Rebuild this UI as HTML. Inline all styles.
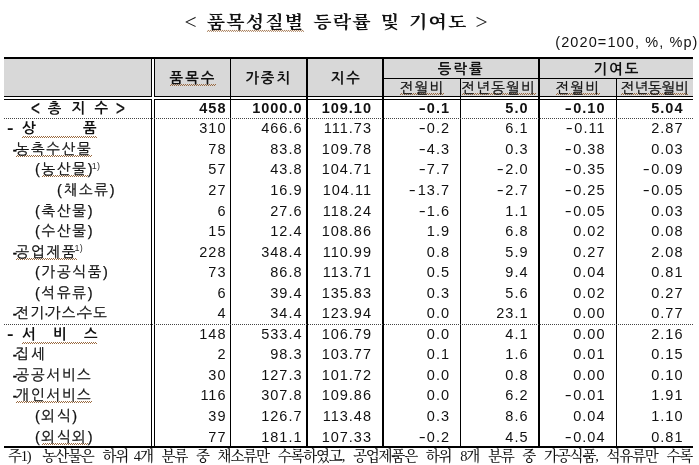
<!DOCTYPE html>
<html lang="ko"><head><meta charset="utf-8"><title>품목성질별 등락률 및 기여도</title>
<style>
html,body{margin:0;padding:0;background:#fff;}
body{width:699px;height:465px;position:relative;overflow:hidden;font-family:"Liberation Sans","NanumGothic","Noto Sans CJK KR",sans-serif;color:#111;font-size:14.5px;}
.abs{position:absolute;}
.title{left:186px;top:10.2px;height:26px;line-height:26px;transform:scaleY(0.87);transform-origin:50% 50%;font-family:"Liberation Serif","Noto Serif CJK KR","Noto Serif CJK SC",serif;font-weight:bold;font-size:19px;letter-spacing:1.15px;word-spacing:3px;white-space:pre;}
.unit{right:0.5px;top:33px;height:18px;line-height:18px;letter-spacing:1.1px;white-space:nowrap;}
.br{display:inline-block;width:10.8px;margin-right:1.15px;text-align:center;font-weight:normal;font-size:25px;line-height:0;transform:scaleX(.86);letter-spacing:0;text-indent:-2.6px;position:relative;top:1px;}
.tb{font-weight:normal;font-size:20px;transform:scaleX(.76);-webkit-text-stroke:0.3px #111;transform-origin:0 50%;}
.hbg{background:#d8d8d8;}
.ln{background:#000;}
.hd{text-align:center;font-weight:bold;letter-spacing:2px;text-indent:2px;white-space:nowrap;}
.sh{-webkit-text-stroke:0.25px #111;text-align:center;letter-spacing:1px;text-indent:1px;white-space:nowrap;}
.row{left:0;width:699px;height:20px;line-height:20px;white-space:nowrap;}
.row span.c{position:absolute;top:0;height:20px;}
.lab{letter-spacing:1.75px;-webkit-text-stroke:0.25px #111;}
.lab.t{letter-spacing:1.2px;}
.m{display:inline-block;width:8.3px;transform:scaleX(1.45);text-align:center;letter-spacing:0;margin-right:1px;}
.num{text-align:right;letter-spacing:1px;left:0;}
.b{font-weight:bold;}
sup{font-size:9px;vertical-align:baseline;position:relative;top:-5.5px;letter-spacing:0.3px;margin-left:-2.6px;line-height:0;-webkit-text-stroke:0;color:#333;}
i{font-style:normal;letter-spacing:0;display:inline-block;width:3px;text-align:center;margin-left:-1.2px;}
.dash{position:absolute;top:0;font-size:11px;font-weight:bold;letter-spacing:0;-webkit-text-stroke:0.5px #000;margin-left:-0.5px;}
.dot{height:0;border-top:1px dotted #444;}
.foot{left:8px;top:446px;height:20px;line-height:20px;font-size:14.5px;white-space:nowrap;font-family:"Liberation Serif","Noto Serif CJK KR","Noto Serif CJK SC",serif;letter-spacing:-1.2px;word-spacing:6.4px;font-weight:500;}
.sq{background-image:repeating-linear-gradient(90deg,#9a6a40 0 1px,transparent 1px 2px),repeating-linear-gradient(90deg,transparent 0 1px,#9a6a40 1px 2px);background-size:100% 1px,100% 1px;background-position:0 calc(100% - var(--o,0px)),0 calc(100% - 1px - var(--o,0px));background-repeat:no-repeat;}
.sh .sq{--o:1.5px;}
</style></head><body>
<div class="abs title"><span class="br">&lt;</span> <span class="sq">품목성질별</span> 등락률 및 기여도 <span class="br">&gt;</span></div>
<div class="abs unit">(2020=100, %, %p)</div>
<div class="abs hbg" style="left:4px;top:59px;width:689px;height:37px;"></div>

<div class="abs ln" style="left:4px;top:57px;width:689px;height:2px;"></div>
<div class="abs ln" style="left:4px;top:96px;width:689px;height:1px;"></div>
<div class="abs" style="left:4px;top:97px;width:689px;height:2px;background:#fff;"></div>
<div class="abs ln" style="left:4px;top:99px;width:689px;height:1px;"></div>
<div class="abs ln" style="left:384px;top:78px;width:309px;height:1px;"></div>
<div class="abs ln" style="left:4px;top:446px;width:689px;height:2px;"></div>
<div class="abs" style="left:152px;top:59px;width:2px;height:387px;background:#fff;"></div>
<div class="abs ln" style="left:151px;top:57px;width:1px;height:391px;"></div>
<div class="abs ln" style="left:154px;top:57px;width:1px;height:391px;"></div>
<div class="abs" style="left:151px;top:97px;width:4px;height:2px;background:#fff;"></div>
<div class="abs ln" style="left:230px;top:57px;width:1px;height:391px;"></div>
<div class="abs ln" style="left:306px;top:57px;width:1.5px;height:391px;"></div>
<div class="abs ln" style="left:382px;top:57px;width:2px;height:391px;"></div>
<div class="abs ln" style="left:460px;top:78px;width:1.3px;height:370px;"></div>
<div class="abs ln" style="left:538px;top:57px;width:2px;height:391px;"></div>
<div class="abs ln" style="left:616px;top:78px;width:1px;height:370px;"></div>
<div class="abs dot" style="left:4px;top:118px;width:689px;"></div>
<div class="abs dot" style="left:4px;top:323.5px;width:689px;"></div>
<div class="abs hd" style="left:132px;width:120px;top:67.5px;height:20px;line-height:20px;"><span class="sq">품목수</span></div>
<div class="abs hd" style="left:207.7px;width:120px;top:67.5px;height:20px;line-height:20px;">가중치</div>
<div class="abs hd" style="left:285.3px;width:120px;top:67.5px;height:20px;line-height:20px;">지수</div>
<div class="abs hd" style="left:400.1px;width:120px;top:58.5px;height:20px;line-height:20px;">등락률</div>
<div class="abs hd" style="left:555.9px;width:120px;top:58.5px;height:20px;line-height:20px;">기여도</div>
<div class="abs sh" style="left:361.4px;width:120px;top:78px;height:20px;line-height:20px;"><span class="sq">전월비</span></div>
<div class="abs sh" style="left:438.1px;width:120px;top:78px;height:20px;line-height:20px;letter-spacing:1.2px;"><span class="sq">전년동월비</span></div>
<div class="abs sh" style="left:517.1px;width:120px;top:78px;height:20px;line-height:20px;"><span class="sq">전월비</span></div>
<div class="abs sh" style="left:594.7px;width:120px;top:78px;height:20px;line-height:20px;letter-spacing:-0.2px;text-indent:0;"><span class="sq">전년동월비</span></div>
<div class="abs row b" style="top:97.50px;">
<span class="c tb" style="left:31px;">&lt;</span><span class="c b" style="left:47.8px;">총</span><span class="c b" style="left:71.4px;">지</span><span class="c b" style="left:94.5px;">수</span><span class="c tb" style="left:116.3px;">&gt;</span>
<span class="c num" style="width:226.5px;">458</span>
<span class="c num" style="width:302.5px;">1000.0</span>
<span class="c num" style="width:372px;">109.10</span>
<span class="c num" style="width:450px;"><span class="m">-</span>0.1</span>
<span class="c num" style="width:528.5px;">5.0</span>
<span class="c num" style="width:605.5px;"><span class="m">-</span>0.10</span>
<span class="c num" style="width:683.5px;">5.04</span>
</div>
<div class="abs row" style="top:118.30px;">
<span class="c b" style="left:7px;transform:scaleX(1.35);transform-origin:0 50%;">-</span><span class="c b sq" style="left:22px;width:75px;overflow:hidden;letter-spacing:0;">&nbsp;&nbsp;&nbsp;&nbsp;&nbsp;&nbsp;&nbsp;&nbsp;&nbsp;&nbsp;&nbsp;&nbsp;&nbsp;&nbsp;&nbsp;&nbsp;&nbsp;&nbsp;&nbsp;&nbsp;&nbsp;&nbsp;</span><span class="c b" style="left:22px;">상</span><span class="c b" style="left:83px;">품</span>
<span class="c num" style="width:226.5px;">310</span>
<span class="c num" style="width:302.5px;">466.6</span>
<span class="c num" style="width:372px;">111.73</span>
<span class="c num" style="width:450px;"><span class="m">-</span>0.2</span>
<span class="c num" style="width:528.5px;">6.1</span>
<span class="c num" style="width:605.5px;"><span class="m">-</span>0.11</span>
<span class="c num" style="width:683.5px;">2.87</span>
</div>
<div class="abs row" style="top:138.85px;">
<span class="c dash" style="left:13.5px;">-</span><span class="c lab" style="left:15.5px;"><span class="sq">농축수산물</span></span>
<span class="c num" style="width:226.5px;">78</span>
<span class="c num" style="width:302.5px;">83.8</span>
<span class="c num" style="width:372px;">109.78</span>
<span class="c num" style="width:450px;"><span class="m">-</span>4.3</span>
<span class="c num" style="width:528.5px;">0.3</span>
<span class="c num" style="width:605.5px;"><span class="m">-</span>0.38</span>
<span class="c num" style="width:683.5px;">0.03</span>
</div>
<div class="abs row" style="top:159.40px;">
<span class="c lab" style="left:35px;">(<span class="sq">농산물</span>)<sup>1)</sup></span>
<span class="c num" style="width:226.5px;">57</span>
<span class="c num" style="width:302.5px;">43.8</span>
<span class="c num" style="width:372px;">104.71</span>
<span class="c num" style="width:450px;"><span class="m">-</span>7.7</span>
<span class="c num" style="width:528.5px;"><span class="m">-</span>2.0</span>
<span class="c num" style="width:605.5px;"><span class="m">-</span>0.35</span>
<span class="c num" style="width:683.5px;"><span class="m">-</span>0.09</span>
</div>
<div class="abs row" style="top:179.95px;">
<span class="c lab" style="left:57px;">(채소류)</span>
<span class="c num" style="width:226.5px;">27</span>
<span class="c num" style="width:302.5px;">16.9</span>
<span class="c num" style="width:372px;">104.11</span>
<span class="c num" style="width:450px;"><span class="m">-</span>13.7</span>
<span class="c num" style="width:528.5px;"><span class="m">-</span>2.7</span>
<span class="c num" style="width:605.5px;"><span class="m">-</span>0.25</span>
<span class="c num" style="width:683.5px;"><span class="m">-</span>0.05</span>
</div>
<div class="abs row" style="top:200.50px;">
<span class="c lab" style="left:35px;">(축산물)</span>
<span class="c num" style="width:226.5px;">6</span>
<span class="c num" style="width:302.5px;">27.6</span>
<span class="c num" style="width:372px;">118.24</span>
<span class="c num" style="width:450px;"><span class="m">-</span>1.6</span>
<span class="c num" style="width:528.5px;">1.1</span>
<span class="c num" style="width:605.5px;"><span class="m">-</span>0.05</span>
<span class="c num" style="width:683.5px;">0.03</span>
</div>
<div class="abs row" style="top:221.05px;">
<span class="c lab" style="left:35px;">(수산물)</span>
<span class="c num" style="width:226.5px;">15</span>
<span class="c num" style="width:302.5px;">12.4</span>
<span class="c num" style="width:372px;">108.86</span>
<span class="c num" style="width:450px;">1.9</span>
<span class="c num" style="width:528.5px;">6.8</span>
<span class="c num" style="width:605.5px;">0.02</span>
<span class="c num" style="width:683.5px;">0.08</span>
</div>
<div class="abs row" style="top:241.60px;">
<span class="c dash" style="left:13.5px;">-</span><span class="c lab" style="left:15.5px;"><span class="sq">공업제품</span><sup>1)</sup></span>
<span class="c num" style="width:226.5px;">228</span>
<span class="c num" style="width:302.5px;">348.4</span>
<span class="c num" style="width:372px;">110.99</span>
<span class="c num" style="width:450px;">0.8</span>
<span class="c num" style="width:528.5px;">5.9</span>
<span class="c num" style="width:605.5px;">0.27</span>
<span class="c num" style="width:683.5px;">2.08</span>
</div>
<div class="abs row" style="top:262.15px;">
<span class="c lab" style="left:35px;">(가공식품)</span>
<span class="c num" style="width:226.5px;">73</span>
<span class="c num" style="width:302.5px;">86.8</span>
<span class="c num" style="width:372px;">113.71</span>
<span class="c num" style="width:450px;">0.5</span>
<span class="c num" style="width:528.5px;">9.4</span>
<span class="c num" style="width:605.5px;">0.04</span>
<span class="c num" style="width:683.5px;">0.81</span>
</div>
<div class="abs row" style="top:282.70px;">
<span class="c lab" style="left:35px;">(석유류)</span>
<span class="c num" style="width:226.5px;">6</span>
<span class="c num" style="width:302.5px;">39.4</span>
<span class="c num" style="width:372px;">135.83</span>
<span class="c num" style="width:450px;">0.3</span>
<span class="c num" style="width:528.5px;">5.6</span>
<span class="c num" style="width:605.5px;">0.02</span>
<span class="c num" style="width:683.5px;">0.27</span>
</div>
<div class="abs row" style="top:303.25px;">
<span class="c dash" style="left:13.5px;">-</span><span class="c lab t" style="left:15.5px;">전기<i>·</i>가스<i>·</i>수도</span>
<span class="c num" style="width:226.5px;">4</span>
<span class="c num" style="width:302.5px;">34.4</span>
<span class="c num" style="width:372px;">123.94</span>
<span class="c num" style="width:450px;">0.0</span>
<span class="c num" style="width:528.5px;">23.1</span>
<span class="c num" style="width:605.5px;">0.00</span>
<span class="c num" style="width:683.5px;">0.77</span>
</div>
<div class="abs row" style="top:323.80px;">
<span class="c b" style="left:7px;transform:scaleX(1.35);transform-origin:0 50%;">-</span><span class="c b sq" style="left:22px;width:75px;overflow:hidden;letter-spacing:0;">&nbsp;&nbsp;&nbsp;&nbsp;&nbsp;&nbsp;&nbsp;&nbsp;&nbsp;&nbsp;&nbsp;&nbsp;&nbsp;&nbsp;&nbsp;&nbsp;&nbsp;&nbsp;&nbsp;&nbsp;&nbsp;&nbsp;</span><span class="c b" style="left:22px;">서</span><span class="c b" style="left:53px;">비</span><span class="c b" style="left:84px;">스</span>
<span class="c num" style="width:226.5px;">148</span>
<span class="c num" style="width:302.5px;">533.4</span>
<span class="c num" style="width:372px;">106.79</span>
<span class="c num" style="width:450px;">0.0</span>
<span class="c num" style="width:528.5px;">4.1</span>
<span class="c num" style="width:605.5px;">0.00</span>
<span class="c num" style="width:683.5px;">2.16</span>
</div>
<div class="abs row" style="top:344.35px;">
<span class="c dash" style="left:13.5px;">-</span><span class="c lab" style="left:15.5px;">집세</span>
<span class="c num" style="width:226.5px;">2</span>
<span class="c num" style="width:302.5px;">98.3</span>
<span class="c num" style="width:372px;">103.77</span>
<span class="c num" style="width:450px;">0.1</span>
<span class="c num" style="width:528.5px;">1.6</span>
<span class="c num" style="width:605.5px;">0.01</span>
<span class="c num" style="width:683.5px;">0.15</span>
</div>
<div class="abs row" style="top:364.90px;">
<span class="c dash" style="left:13.5px;">-</span><span class="c lab" style="left:15.5px;">공공서비스</span>
<span class="c num" style="width:226.5px;">30</span>
<span class="c num" style="width:302.5px;">127.3</span>
<span class="c num" style="width:372px;">101.72</span>
<span class="c num" style="width:450px;">0.0</span>
<span class="c num" style="width:528.5px;">0.8</span>
<span class="c num" style="width:605.5px;">0.00</span>
<span class="c num" style="width:683.5px;">0.10</span>
</div>
<div class="abs row" style="top:385.45px;">
<span class="c dash" style="left:13.5px;">-</span><span class="c lab" style="left:15.5px;"><span class="sq">개인서비스</span></span>
<span class="c num" style="width:226.5px;">116</span>
<span class="c num" style="width:302.5px;">307.8</span>
<span class="c num" style="width:372px;">109.86</span>
<span class="c num" style="width:450px;">0.0</span>
<span class="c num" style="width:528.5px;">6.2</span>
<span class="c num" style="width:605.5px;"><span class="m">-</span>0.01</span>
<span class="c num" style="width:683.5px;">1.91</span>
</div>
<div class="abs row" style="top:406.00px;">
<span class="c lab" style="left:35px;">(외식)</span>
<span class="c num" style="width:226.5px;">39</span>
<span class="c num" style="width:302.5px;">126.7</span>
<span class="c num" style="width:372px;">113.48</span>
<span class="c num" style="width:450px;">0.3</span>
<span class="c num" style="width:528.5px;">8.6</span>
<span class="c num" style="width:605.5px;">0.04</span>
<span class="c num" style="width:683.5px;">1.10</span>
</div>
<div class="abs row" style="top:426.55px;">
<span class="c lab" style="left:35px;">(<span class="sq">외식외</span>)</span>
<span class="c num" style="width:226.5px;">77</span>
<span class="c num" style="width:302.5px;">181.1</span>
<span class="c num" style="width:372px;">107.33</span>
<span class="c num" style="width:450px;"><span class="m">-</span>0.2</span>
<span class="c num" style="width:528.5px;">4.5</span>
<span class="c num" style="width:605.5px;"><span class="m">-</span>0.04</span>
<span class="c num" style="width:683.5px;">0.81</span>
</div>
<div class="abs foot">주1)<span style="margin-left:3px"> </span>농산물은 하위<span style="margin-left:-3px"> </span>4개 분류 중 채소류만 수록하였고, 공업제품은 하위 8개 분류 중 가공식품, 석유류만 수록</div>
</body></html>
